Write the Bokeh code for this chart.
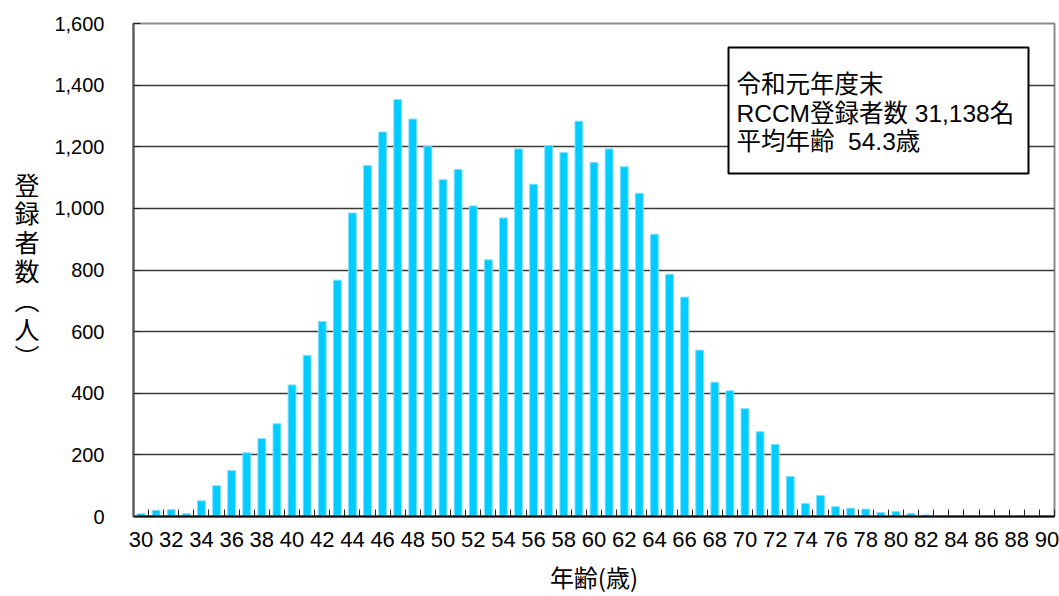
from bokeh.plotting import figure
from bokeh.models import Range1d, FixedTicker, NumeralTickFormatter, Label, BoxAnnotation
from bokeh.embed import file_html
from bokeh.resources import INLINE

# ---- data ----
ages = list(range(30, 91))
counts = [9, 20, 22, 9, 51, 100, 149, 207, 253, 301,
          427, 523, 633, 767, 985, 1139, 1248, 1353, 1290, 1202,
          1093, 1126, 1008, 833, 969, 1193, 1078, 1204, 1181, 1283,
          1149, 1193, 1135, 1049, 916, 786, 712, 540, 436, 408,
          350, 275, 234, 130, 42, 68, 32, 27, 24, 13,
          16, 10, 5, 0, 2, 0, 0, 0, 0, 0,
          0]
y_ticks = [0, 200, 400, 600, 800, 1000, 1200, 1400, 1600]
x_labels = ages[::2]
y_title = "登\n録\n者\n数\n︵\n人\n︶"
x_title = "年齢(歳)"
info_lines = ["令和元年度末", "RCCM登録者数 31,138名", "平均年齢 \u00a054.3歳"]

LATIN = "Liberation Sans"
MIXED = "Liberation Sans, Noto Sans CJK JP"

p = figure(width=1059, height=596, output_backend="svg", toolbar_location=None,
           x_range=Range1d(ages[0] - 0.5, ages[-1] + 0.5), y_range=Range1d(0, 1600),
           min_border_left=133, min_border_right=5, min_border_top=23, min_border_bottom=79)
p.background_fill_color = "white"
p.border_fill_color = "white"
p.outline_line_color = "#8c8c8c"
p.outline_line_width = 2

p.vbar(x=ages, top=counts, width=0.52, fill_color="#00CCFF", line_color="#80dfff", line_width=1)

# x axis
xa = p.xaxis[0]
xa.ticker = FixedTicker(ticks=x_labels, minor_ticks=[a - 0.5 for a in ages] + [ages[-1] + 0.5])
xa.major_tick_in = 0
xa.major_tick_out = 0
xa.minor_tick_in = 7
xa.minor_tick_out = 0
xa.minor_tick_line_color = "#222222"
xa.axis_line_color = "black"
xa.axis_line_width = 2
xa.major_label_text_font = LATIN
xa.major_label_text_font_size = "22px"
xa.major_label_text_color = "black"
xa.major_label_standoff = 15
xa.axis_label = x_title
xa.axis_label_text_font = "Noto Sans CJK JP"
xa.axis_label_text_font_style = "normal"
xa.axis_label_text_font_size = "24px"
xa.axis_label_text_line_height = 0.8
xa.axis_label_text_color = "black"
xa.axis_label_standoff = 9

# y axis
ya = p.yaxis[0]
ya.ticker = FixedTicker(ticks=y_ticks)
ya.formatter = NumeralTickFormatter(format="0,0")
ya.major_tick_in = 7
ya.major_tick_out = 0
ya.minor_tick_in = 0
ya.minor_tick_out = 0
ya.major_tick_line_color = "#222222"
ya.axis_line_color = "#555555"
ya.axis_line_width = 2
ya.major_label_text_font = LATIN
ya.major_label_text_font_size = "20px"
ya.major_label_text_color = "black"
ya.major_label_standoff = 29
ya.axis_label = y_title
ya.axis_label_orientation = "horizontal"
ya.axis_label_text_font = "Noto Sans CJK JP"
ya.axis_label_text_font_style = "normal"
ya.axis_label_text_font_size = "25px"
ya.axis_label_text_line_height = 0.8
ya.axis_label_text_color = "black"
ya.axis_label_standoff = 12

p.xgrid.grid_line_color = None
p.ygrid.ticker = FixedTicker(ticks=y_ticks)
p.ygrid.grid_line_color = "#3a3a3a"
p.ygrid.grid_line_width = 1.5

# info box
p.add_layout(BoxAnnotation(left=728, right=1028, top=47, bottom=173,
                           left_units="canvas", right_units="canvas",
                           top_units="canvas", bottom_units="canvas",
                           fill_color="white", fill_alpha=1.0,
                           line_color="black", line_alpha=1.0, line_width=2))
for i, t in enumerate(info_lines):
    p.add_layout(Label(x=736, y=84 + 28.5 * i, x_units="canvas", y_units="canvas", text=t,
                       text_font=MIXED, text_font_size="24.5px",
                       text_align="left", text_baseline="middle", text_color="black"))

open("out.html", "w").write(file_html(p, INLINE))
